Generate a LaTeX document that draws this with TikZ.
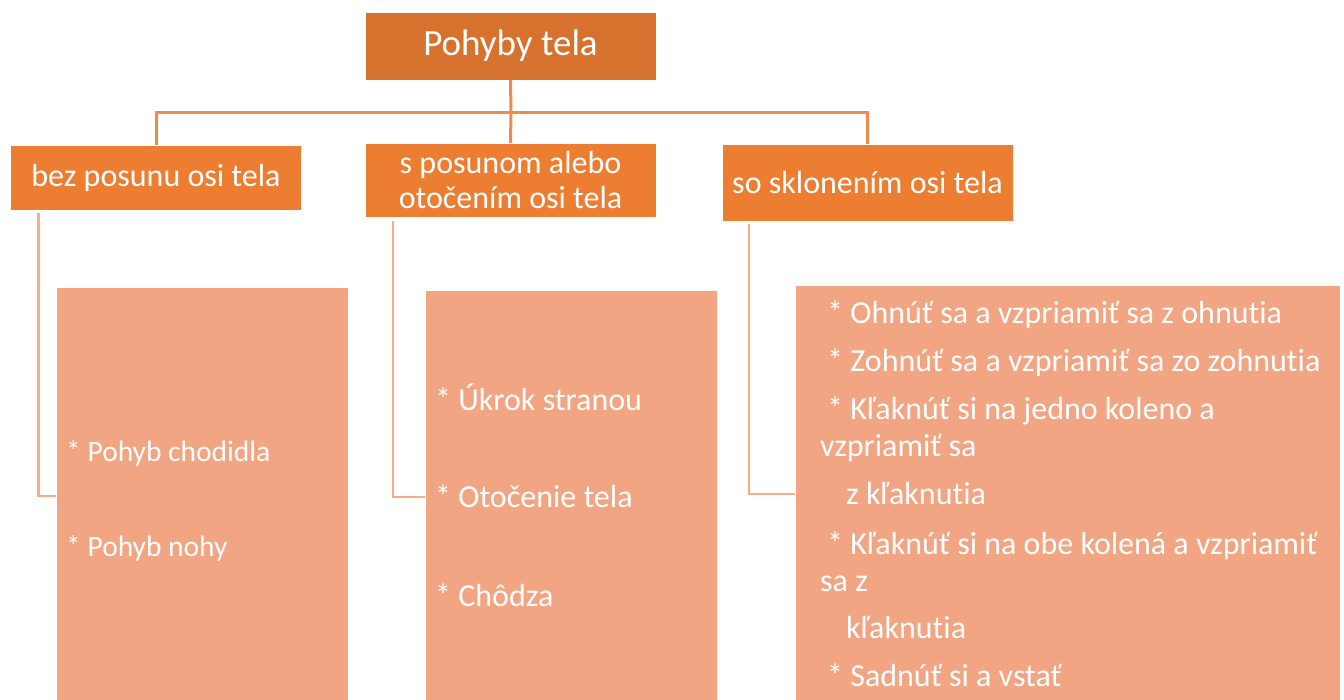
\documentclass[tikz,border=0pt]{standalone}
\usepackage{fontspec}
\setmainfont{Carlito}[Ligatures=NoCommon]
\usepackage{tikz}
\usepackage{xcolor}
\usetikzlibrary{positioning}
\definecolor{topor}{RGB}{215,113,46}
\definecolor{midor}{RGB}{237,125,49}
\definecolor{lowor}{RGB}{241,165,130}
\definecolor{linkor}{RGB}{240,138,75}
\definecolor{sideor}{RGB}{244,172,140}

\tikzset{
  headbox/.style={fill=topor, draw=white, thin, text=white, inner sep=0pt,
    font=\fontsize{37}{44}\selectfont, minimum width=291pt, minimum height=68pt},
  groupbox/.style={fill=midor, draw=white, thin, text=white, inner sep=0pt,
    font=\fontsize{32}{35}\selectfont, align=center, minimum width=291pt},
  listbox/.style={fill=lowor, draw=white, thin, anchor=north west, inner sep=0pt},
  item/.style={anchor=base west, text=white, inner sep=0pt,
    font=\fontsize{32}{37}\selectfont},
  smallitem/.style={item, font=\fontsize{29.5}{35}\selectfont},
  link/.style={draw=linkor, line width=3pt},
  sidelink/.style={draw=sideor, line width=2.5pt}
}

\begin{document}
\begin{tikzpicture}[x=1pt,y=-1pt]
                \useasboundingbox (0,0) rectangle (1344,699);

                % Top
                \node[headbox] (top) at (510.5,46) {Pohyby tela};

                % Groups
                \node[groupbox, minimum height=65pt] (g1) at (156,177.5) {bez posunu osi tela};
                \node[groupbox, minimum height=74pt] (g2) at (510.5,180) {s posunom alebo\\otočením osi tela};
                \node[groupbox, minimum height=77pt] (g3) at (867.5,182.5) {so sklonením osi tela};

                % Lists
                \node[listbox, minimum width=292pt, minimum height=420pt] (lA) at (56,287) {};
                \node[listbox, minimum width=292pt, minimum height=420pt] (lB) at (425,290) {};
                \node[listbox, minimum width=545pt, minimum height=420pt] (lC) at (795,285) {};

                % Tree lines
                \coordinate (hub) at (511,112);
                \draw[link] (top.south) -- (hub);
                \draw[link] (g1.north) |- (hub) -| (g3.north);
                \draw[link] (hub) -- (g2.north);

                % Side lines
                \draw[sidelink] ([xshift=28pt,yshift=-3pt]g1.south west) |- ([yshift=-209pt]lA.north west);
                \draw[sidelink] ([xshift=28pt,yshift=-4pt]g2.south west) |- ([yshift=-207pt]lB.north west);
                \draw[sidelink] ([xshift=27pt,yshift=-3pt]g3.south west) |- ([yshift=-209pt]lC.north west);

                % Items
                \node[smallitem] (a1) at (66,461) {* Pohyb chodidla};
                \node[smallitem] (a2) at (66,556) {* Pohyb nohy};

                \node[item] (b1) at (435,410) {* Úkrok stranou};
                \node[item] (b2) at (435,507) {* Otočenie tela};
                \node[item] (b3) at (435,606) {* Chôdza};

                \node[item] (c1) at (827,323) {* Ohnúť sa a vzpriamiť sa z ohnutia};
                \node[item] (c2) at (827,371) {* Zohnúť sa a vzpriamiť sa zo zohnutia};
                \node[item] (c3) at (827,419) {* Kľaknúť si na jedno koleno a};
                \node[item] (c4) at (820,456) {vzpriamiť sa};
                \node[item] (c5) at (846,504) {z kľaknutia};
                \node[item] (c6) at (827,554) {* Kľaknúť si na obe kolená a vzpriamiť};
                \node[item] (c7) at (820,591) {sa z};
                \node[item] (c8) at (846,638) {kľaknutia};
                \node[item] (c9) at (827,686) {* Sadnúť si a vstať};
\end{tikzpicture}
\end{document}
